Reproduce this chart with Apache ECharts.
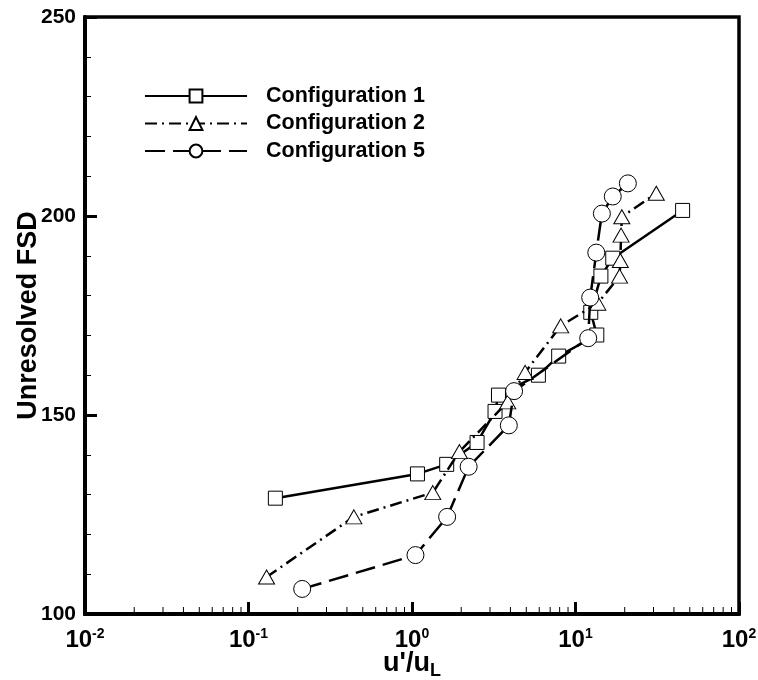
<!DOCTYPE html>
<html>
<head>
<meta charset="utf-8">
<script src="https://cdn.jsdelivr.net/npm/echarts@6/dist/echarts.min.js"></script>
<style>
html,body{margin:0;padding:0;background:#fff;}
#chart{width:758px;height:680px;}
</style>
</head>
<body>
<div id="chart"></div>
<script>
// ---- data ----
const seriesNames = ['Configuration 1', 'Configuration 2', 'Configuration 5'];
const config1X = [0.146, 1.08, 1.63, 2.50, 3.22, 3.38, 5.93, 7.89, 13.5, 12.4, 14.3, 16.9, 45.2];
const config1Y = [129.1, 135.2, 137.6, 143.1, 150.9, 155.0, 160.0, 164.8, 170.1, 175.8, 184.9, 189.4, 201.4];
const config2X = [0.129, 0.441, 1.34, 1.95, 3.85, 4.92, 8.12, 13.7, 18.6, 18.8, 19.0, 19.2, 31.2];
const config2Y = [109.3, 124.4, 130.5, 140.8, 153.3, 160.7, 172.4, 178.1, 184.9, 188.8, 195.2, 199.8, 205.7];
const config5X = [0.213, 1.05, 1.64, 2.22, 3.91, 4.21, 11.96, 12.3, 13.4, 14.5, 16.9, 20.9];
const config5Y = [106.3, 114.8, 124.4, 137.0, 147.4, 156.0, 169.3, 179.5, 190.8, 200.6, 204.9, 208.2];
const xTickValues = [0.01, 0.1, 1, 10, 100];
const xMinorTicks = [0.02,0.03,0.04,0.05,0.06,0.07,0.08,0.09,
                     0.2,0.3,0.4,0.5,0.6,0.7,0.8,0.9,
                     2,3,4,5,6,7,8,9,
                     20,30,40,50,60,70,80,90];
const yMin = 100, yMax = 250, yInterval = 50;

function pairs(xs, ys) { return xs.map((x, i) => [x, ys[i]]); }

const FONT = '"Liberation Sans", Arial, Helvetica, sans-serif';
const chart = echarts.init(document.getElementById('chart'), null, {renderer: 'canvas'});

const markerStyle = {color: '#fff', borderColor: '#000', borderWidth: 1};

const option = {
  backgroundColor: '#fff',
  animation: false,
  grid: {left: 85, right: 19, top: 17, bottom: 66, containLabel: false, outerBoundsMode: 'none',
         show: true, borderColor: '#000', borderWidth: 3.5, backgroundColor: 'transparent'},
  legend: {
    orient: 'vertical',
    left: 139,
    top: 80,
    itemWidth: 102,
    itemHeight: 16,
    itemGap: 5.5,
    data: seriesNames,
    textStyle: {fontFamily: FONT, fontWeight: 'bold', fontSize: 21.5, color: '#000', padding: [0, 0, 0, 14]}
  },
  xAxis: {
    type: 'log',
    logBase: 10,
    min: xTickValues[0],
    max: xTickValues[xTickValues.length - 1],
    name: "u'/u{sub|L}",
    nameLocation: 'middle',
    nameGap: 34,
    nameMoveOverlap: false,
    nameTextStyle: {
      fontFamily: FONT, fontWeight: 'bold', fontSize: 27, color: '#000',
      rich: {
        sub: {fontFamily: FONT, fontWeight: 'bold', fontSize: 18, color: '#000', padding: [14, 0, 0, 0]}
      }
    },
    axisLine: {show: true, onZero: false, lineStyle: {color: '#000', width: 4}},
    axisTick: {show: true, inside: true, length: 12, lineStyle: {color: '#000', width: 3}},
    minorTick: {show: false},
    splitLine: {show: false},
    axisLabel: {
      margin: 13,
      hideOverlap: false,
      formatter: function (v) {
        const e = Math.round(Math.log10(v));
        return '{b|10}{s|' + e + '}';
      },
      rich: {
        b: {fontFamily: FONT, fontWeight: 'bold', fontSize: 24, color: '#000', lineHeight: 25, verticalAlign: 'bottom'},
        s: {fontFamily: FONT, fontWeight: 'bold', fontSize: 14, color: '#000', lineHeight: 25, verticalAlign: 'top'}
      }
    }
  },
  yAxis: {
    type: 'value',
    min: yMin,
    max: yMax,
    interval: yInterval,
    name: 'Unresolved FSD',
    nameLocation: 'middle',
    nameGap: 43,
    nameMoveOverlap: false,
    nameTextStyle: {fontFamily: FONT, fontWeight: 'bold', fontSize: 27, color: '#000'},
    axisLine: {show: true, lineStyle: {color: '#000', width: 4}},
    axisTick: {show: true, inside: true, length: 12, lineStyle: {color: '#000', width: 3}},
    minorTick: {show: true, splitNumber: 5, length: 6, lineStyle: {color: '#000', width: 1}},
    splitLine: {show: false},
    axisLabel: {margin: 9, fontFamily: FONT, fontWeight: 'bold', fontSize: 21, color: '#000'}
  },
  series: [
    {
      name: 'xMinor',
      type: 'custom',
      silent: true,
      clip: false,
      legendHoverLink: false,
      data: xMinorTicks.map(v => [v, yMin]),
      renderItem: function (params, api) {
        const p = api.coord([api.value(0), api.value(1)]);
        return {
          type: 'line',
          shape: {x1: p[0], y1: p[1] - 2, x2: p[0], y2: p[1] - 7},
          style: {stroke: '#000', lineWidth: 1}
        };
      },
      z: 1
    },
    {
      name: seriesNames[0],
      type: 'line',
      data: pairs(config1X, config1Y),
      symbol: 'rect',
      symbolSize: 14,
      showAllSymbol: true,
      lineStyle: {color: '#000', width: 2.5, type: 'solid'},
      itemStyle: markerStyle,
      z: 2
    },
    {
      name: seriesNames[1],
      type: 'line',
      data: pairs(config2X, config2Y),
      symbol: 'triangle',
      symbolSize: [16, 14],
      showAllSymbol: true,
      lineStyle: {color: '#000', width: 2.5, type: [12, 5, 2, 5]},
      itemStyle: markerStyle,
      z: 3
    },
    {
      name: seriesNames[2],
      type: 'line',
      data: pairs(config5X, config5Y),
      symbol: 'circle',
      symbolSize: 17,
      showAllSymbol: true,
      lineStyle: {color: '#000', width: 2.5, type: [20, 8]},
      itemStyle: markerStyle,
      z: 4
    }
  ]
};
chart.setOption(option);
</script>
</body>
</html>
